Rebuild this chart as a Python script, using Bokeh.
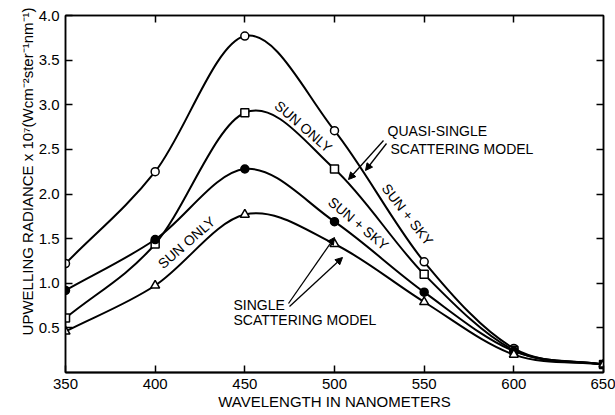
import numpy as np
from bokeh.plotting import figure
from bokeh.models import Range1d, LinearAxis, FixedTicker, Label, Arrow, NormalHead, Title
from bokeh.embed import file_html
from bokeh.resources import INLINE

# ---- data ----
wavelength = [350, 400, 450, 500, 550, 600, 650]
quasi_sun_sky = [1.22, 2.25, 3.77, 2.71, 1.24, 0.27, 0.09]
quasi_sun_only = [0.61, 1.44, 2.91, 2.28, 1.10, 0.25, 0.09]
single_sun_sky = [0.92, 1.49, 2.28, 1.69, 0.90, 0.24, 0.09]
single_sun_only = [0.46, 0.975, 1.77, 1.44, 0.79, 0.20, 0.09]

x_ticks = [350, 400, 450, 500, 550, 600, 650]
y_ticks = [0.5, 1.0, 1.5, 2.0, 2.5, 3.0, 3.5, 4.0]
y_tick_labels = ["0.5", "1.0", "1.5", "2.0", "2.5", "3.0", "3.5", "4.0"]

FONT = "Liberation Sans"
W, H = 615, 415
L, R, T, B = 65, 12, 15, 43

p = figure(width=W, height=H, output_backend="svg", toolbar_location=None,
           x_range=Range1d(350, 650), y_range=Range1d(0, 4.0),
           min_border_left=L, min_border_right=R, min_border_top=T, min_border_bottom=B,
           background_fill_color="white", border_fill_color="white")
p.grid.visible = False
p.outline_line_color = "black"
p.outline_line_width = 1.5

# frame pixel -> data helpers (for annotation placement)
fw, fh = W - L - R, H - T - B
def X(px):
    return 350 + (px - L) * 300.0 / fw
def Y(py):
    return 4.0 - (py - T) * 4.0 / fh

# bottom axis
xa = p.xaxis[0]
xa.ticker = FixedTicker(ticks=x_ticks)
xa.major_tick_in = 7
xa.major_tick_out = 0
xa.minor_tick_line_color = None
xa.axis_line_width = 2
xa.major_tick_line_width = 1.5
xa.major_label_text_font = FONT
xa.major_label_text_font_size = "15px"
xa.major_label_text_color = "black"
xa.major_label_standoff = 6
xa.axis_label = "WAVELENGTH IN NANOMETERS"
xa.axis_label_text_font = FONT
xa.axis_label_text_font_size = "15px"
xa.axis_label_text_font_style = "normal"
xa.axis_label_text_color = "black"
xa.axis_label_standoff = 1

# left axis
ya = p.yaxis[0]
ya.ticker = FixedTicker(ticks=y_ticks)
ya.major_label_overrides = {t: s for t, s in zip(y_ticks, y_tick_labels)}
ya.major_tick_in = 7
ya.major_tick_out = 0
ya.minor_tick_line_color = None
ya.axis_line_width = 1.5
ya.major_tick_line_width = 1.5
ya.major_label_text_font = FONT
ya.major_label_text_font_size = "15px"
ya.major_label_text_color = "black"
ya.major_label_standoff = 6

# y-axis title, placed toward the top like the reference
ytitle = Title(text="UPWELLING RADIANCE x 10\u2077(Wcm\u207b\u00b2ster\u207b\u00b9nm\u207b\u00b9)",
               align="right", offset=-8, text_font=FONT, text_font_size="15px",
               text_font_style="normal", text_color="black", standoff=0)
p.add_layout(ytitle, "left")

# top and right axes (inner ticks only)
top = LinearAxis(ticker=FixedTicker(ticks=[400, 450, 500, 550, 600]),
                 major_tick_in=7, major_tick_out=0, minor_tick_line_color=None,
                 major_label_text_font_size="0px", axis_line_width=1.5,
                 major_tick_line_width=1.5, major_label_standoff=0)
right = LinearAxis(ticker=FixedTicker(ticks=[0.5, 1.0, 1.5, 2.0, 2.5, 3.0, 3.5]),
                   major_tick_in=7, major_tick_out=0, minor_tick_line_color=None,
                   major_label_text_font_size="0px", axis_line_width=1.5,
                   major_tick_line_width=1.5, major_label_standoff=0)
p.add_layout(top, "above")
p.add_layout(right, "right")


def smooth(xs, ys):
    """Catmull-Rom curve through the data points, as cubic Bezier segments."""
    xs = np.asarray(xs, float)
    ys = np.asarray(ys, float)
    xp = np.concatenate([[2 * xs[0] - xs[1]], xs, [2 * xs[-1] - xs[-2]]])
    yp = np.concatenate([[2 * ys[0] - ys[1]], ys, [2 * ys[-1] - ys[-2]]])
    n = len(xs) - 1
    i = np.arange(1, n + 1)
    x0, y0 = xp[i], yp[i]
    x1, y1 = xp[i + 1], yp[i + 1]
    cx0 = x0 + (xp[i + 1] - xp[i - 1]) / 6.0
    cy0 = y0 + (yp[i + 1] - yp[i - 1]) / 6.0
    cx1 = x1 - (xp[i + 2] - xp[i]) / 6.0
    cy1 = y1 - (yp[i + 2] - yp[i]) / 6.0
    return dict(x0=x0, y0=y0, x1=x1, y1=y1, cx0=cx0, cy0=cy0, cx1=cx1, cy1=cy1)


series = [
    (quasi_sun_sky, "circle", "white"),
    (quasi_sun_only, "square", "white"),
    (single_sun_sky, "circle", "black"),
    (single_sun_only, "triangle", "white"),
]
for ys, marker, fill in series:
    p.bezier(line_color="black", line_width=2, **smooth(wavelength, ys))
for ys, marker, fill in series:
    p.scatter(wavelength, ys, marker=marker, size=8 if marker != "triangle" else 9,
              fill_color=fill, line_color="black", line_width=1.5)


def lab(text, px, py, angle_deg=0.0, align="center"):
    p.add_layout(Label(x=X(px), y=Y(py), text=text, angle=np.deg2rad(angle_deg),
                       text_align=align, text_baseline="middle",
                       text_font=FONT, text_font_size="14px", text_color="black"))


# curve labels
lab("SUN ONLY", 303, 126, -41)
lab("SUN + SKY", 407, 214, -52)
lab("SUN + SKY", 358, 223, -40)
lab("SUN ONLY", 186, 242, 41)
# model labels
lab("QUASI-SINGLE", 387, 130, 0, "left")
lab("SCATTERING MODEL", 390, 148, 0, "left")
lab("SINGLE", 233, 304, 0, "left")
lab("SCATTERING MODEL", 233, 319, 0, "left")

# arrows
def arrow(px0, py0, px1, py1):
    p.add_layout(Arrow(x_start=X(px0), y_start=Y(py0), x_end=X(px1), y_end=Y(py1),
                       line_color="black", line_width=1.3,
                       end=NormalHead(size=7, fill_color="black", line_color="black", line_width=1)))

arrow(383, 140, 348, 179)
arrow(386, 143, 365, 170)
arrow(288, 303, 334, 237)
arrow(289, 306, 342, 257)

open("out.html", "w").write(file_html(p, INLINE))
